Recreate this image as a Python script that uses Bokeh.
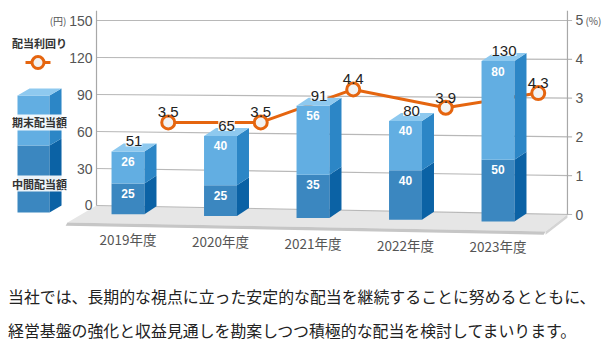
from bokeh.plotting import figure
from bokeh.models import Range1d, Label, Div
from bokeh.layouts import column
from bokeh.core.properties import value
from bokeh.embed import file_html
from bokeh.resources import INLINE

# ---------------- data ----------------
years = ["2019年度", "2020年度", "2021年度", "2022年度", "2023年度"]
interim = [25, 25, 35, 40, 50]          # 中間配当額
year_end = [26, 40, 56, 40, 80]         # 期末配当額
totals = [51, 65, 91, 80, 130]
yields = [3.5, 3.5, 4.4, 3.9, 4.3]      # 配当利回り (%)
yen_ticks = [0, 30, 60, 90, 120, 150]
pct_ticks = [0, 1, 2, 3, 4, 5]

# ---------------- style / geometry ----------------
JP = value("Noto Sans CJK JP")
NUM = value("Liberation Sans")
C_UP, C_UP_SIDE = "#62aee2", "#2c86c6"
C_LO, C_LO_SIDE = "#3b87c0", "#0b62a5"
C_TOP = "#8ec9ef"
C_LINE = "#e5650f"

W, H = 604, 265
p = figure(width=W, height=H, output_backend="svg", toolbar_location=None,
           x_range=Range1d(-1.3784, 5.1514), y_range=Range1d(-48.65, 166.22),
           x_axis_type=None, y_axis_type=None, min_border=0,
           background_fill_color="white", border_fill_color="white")
p.outline_line_color = None
p.grid.visible = False
p.extra_y_ranges = {"pct": Range1d(-1.314, 5.515), "yld": Range1d(-0.398, 6.823)}

L, R = -0.3405, 4.751          # left / right wall edges
HW, DX, DY = 0.178, 0.13, 6.5  # bar half width, depth offset (x units, yen)


def pct_to_yen(v):
    r, y = p.extra_y_ranges["pct"], p.y_range
    return y.start + (v - r.start) / (r.end - r.start) * (y.end - y.start)


ZR = pct_to_yen(0)


def floor_y(x):
    return 0 + (ZR - 0) * (x - L) / (R - L)


# floor
fdl, fdr, fdy = 0.3135, 0.237, 13.78
p.patch([L, R, R - fdr, L - fdl], [0, ZR, ZR - fdy, -fdy],
        fill_color="#e6e6e6", line_color=None)
p.patch([L - fdl, R - fdr, R - fdr - 0.02, L - fdl - 0.02],
        [-fdy, ZR - fdy, ZR - fdy - 2.6, -fdy - 2.6],
        fill_color="#c6c6c6", line_color=None)
p.patch([R, R - fdr, R - fdr, R], [ZR, ZR - fdy, ZR - fdy - 2.6, ZR - 2.6],
        fill_color="#d4d4d4", line_color=None)

# grid lines (slightly slanted, perspective)
p.segment(x0=[L] * len(yen_ticks), y0=yen_ticks,
          x1=[R + 0.05] * len(pct_ticks), y1=[pct_to_yen(t) for t in pct_ticks],
          line_color="#b8b8b8", line_width=1.2)
# wall axis lines
p.segment(x0=[L, R], y0=[0, ZR], x1=[L, R], y1=[158, pct_to_yen(5.25)],
          line_color="#a8a8a8", line_width=1.2)

# axis labels
p.text(x=[L] * len(yen_ticks), y=yen_ticks, text=[str(t) for t in yen_ticks],
       x_offset=-4, text_align="right", text_baseline="middle",
       text_font=NUM, text_font_size="14px", text_color="#555555")
p.text(x=[L], y=[150], text=["(円)"], x_offset=-30, text_align="right",
       text_baseline="middle", text_font=JP, text_font_size="10px",
       text_color="#555555")
p.text(x=[R] * len(pct_ticks), y=pct_ticks, text=[str(t) for t in pct_ticks],
       y_range_name="pct", x_offset=8, text_align="left", text_baseline="middle",
       text_font=NUM, text_font_size="14px", text_color="#555555")
p.text(x=[R], y=[5], text=["(%)"], y_range_name="pct", x_offset=18,
       text_align="left", text_baseline="middle", text_font=JP,
       text_font_size="10px", text_color="#555555")

# yield line (behind bars)
idx = list(range(len(years)))
lx = [i + 0.435 for i in idx]
p.line(lx, yields, y_range_name="yld", line_color=C_LINE, line_width=3)
p.scatter(lx, yields, y_range_name="yld", size=13, fill_color="#f2f2f2",
          line_color=C_LINE, line_width=3)
p.text(x=lx, y=yields, text=[f"{v:.1f}" for v in yields], y_range_name="yld",
       y_offset=-10, text_align="center", text_baseline="alphabetic",
       text_font=NUM, text_font_size="15px", text_color="#222222")

# 3D bars
base = [floor_y(i + DX) - DY for i in idx]
mid = [b + v for b, v in zip(base, interim)]
top = [b + t for b, t in zip(base, totals)]
p.quad(left=[i - HW for i in idx], right=[i + HW for i in idx], bottom=base,
       top=mid, fill_color=C_LO, line_color=None)
p.quad(left=[i - HW for i in idx], right=[i + HW for i in idx], bottom=mid,
       top=top, fill_color=C_UP, line_color=None)


def side(i, b, t):
    return ([i + HW, i + HW + DX, i + HW + DX, i + HW], [b, b + DY, t + DY, t])


lo_s = [side(i, b, m) for i, b, m in zip(idx, base, mid)]
up_s = [side(i, m, t) for i, m, t in zip(idx, mid, top)]
p.patches([s[0] for s in lo_s], [s[1] for s in lo_s], fill_color=C_LO_SIDE, line_color=None)
p.patches([s[0] for s in up_s], [s[1] for s in up_s], fill_color=C_UP_SIDE, line_color=None)
p.patches([[i - HW, i + HW, i + HW + DX, i - HW + DX] for i in idx],
          [[t, t, t + DY, t + DY] for t in top], fill_color=C_TOP, line_color=None)

# inner labels
p.text(x=idx, y=mid, text=[str(v) for v in interim], y_offset=10,
       text_align="center", text_baseline="middle", text_font=NUM,
       text_font_size="12px", text_font_style="bold", text_color="white")
p.text(x=idx, y=top, text=[str(v) for v in year_end], y_offset=10,
       text_align="center", text_baseline="middle", text_font=NUM,
       text_font_size="12px", text_font_style="bold", text_color="white")
# totals (with white halo)
p.text(x=[i + DX / 2 for i in idx], y=[t + DY for t in top],
       text=[str(v) for v in totals], y_offset=-2, text_align="center",
       text_baseline="alphabetic", text_font=NUM, text_font_size="15px",
       text_color="#222222", background_fill_color="white",
       background_fill_alpha=0.85)
# category labels
p.text(x=idx, y=base, text=years, y_offset=25, text_align="center",
       text_baseline="middle", text_font=JP, text_font_size="13.5px",
       text_color="#555555")

# ---------------- legend ----------------
p.text(x=[-0.957], y=[131.4], text=["配当利回り"], text_align="center",
       text_baseline="middle", text_font=JP, text_font_size="11px",
       text_font_style="bold", text_color="#333333")
p.line([-1.108, -0.838], [115.9, 115.9], line_color=C_LINE, line_width=3)
p.scatter([-0.973], [115.9], size=12, fill_color="#f2f2f2", line_color=C_LINE,
          line_width=3)
cl, cr, ct, cm, cb = -1.1946, -0.8486, 89.2, 48.6, -5.7
cdx, cdy = 0.13, 5.7
p.quad(left=[cl, cl], right=[cr, cr], bottom=[cb, cm], top=[cm, ct],
       fill_color=[C_LO, C_UP], line_color=None)
p.patches([[cr, cr + cdx, cr + cdx, cr], [cr, cr + cdx, cr + cdx, cr]],
          [[cb, cb + cdy, cm + cdy, cm], [cm, cm + cdy, ct + cdy, ct]],
          fill_color=[C_LO_SIDE, C_UP_SIDE], line_color=None)
p.patch([cl, cr, cr + cdx, cl + cdx], [ct, ct, ct + cdy, ct + cdy],
        fill_color=C_TOP, line_color=None)
for txt, yy in [("期末配当額", 67.3), ("中間配当額", 17.8)]:
    p.add_layout(Label(x=-0.957, y=yy, text=txt, text_align="center",
                       text_baseline="middle", text_font="Noto Sans CJK JP",
                       text_font_size="11px", text_font_style="bold",
                       text_color="#333333", background_fill_color="white",
                       background_fill_alpha=0.9))

# ---------------- note text ----------------
note = ("<div style='font-family:\"Noto Sans CJK JP\";font-size:15.9px;"
        "line-height:34px;color:#222;padding:15px 0 0 8px;white-space:nowrap;'>"
        "当社では、長期的な視点に立った安定的な配当を継続することに努めるとともに、<br>"
        "経営基盤の強化と収益見通しを勘案しつつ積極的な配当を検討してまいります。</div>")
div = Div(text=note, width=W, height=352 - H, margin=0)

layout = column(p, div, spacing=0)
open("out.html", "w").write(file_html(layout, INLINE))
